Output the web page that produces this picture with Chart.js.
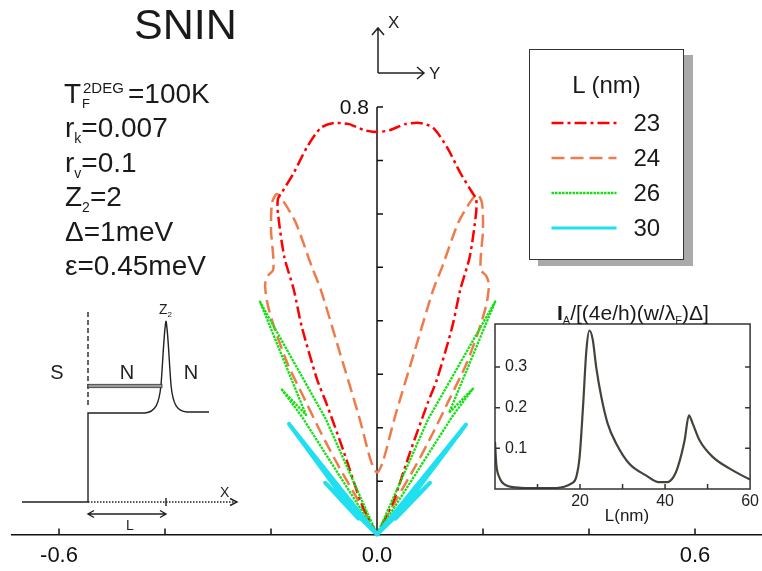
<!DOCTYPE html>
<html>
<head>
<meta charset="utf-8">
<title>SNIN</title>
<script src="https://cdn.jsdelivr.net/npm/chart.js@4.4.1/dist/chart.umd.min.js"></script>
<style>
  html, body { margin: 0; padding: 0; background: #fff; }
  #wrap { position: relative; width: 762px; height: 571px; overflow: hidden;
          font-family: "Liberation Sans", Arial, sans-serif; color: #1a1a1a; }
  canvas { position: absolute; }
  #main { left: 0; top: 0; }
  #inset { left: 470px; top: 290px; }
  .t { position: absolute; white-space: nowrap; line-height: 1; }
  .sub { position: relative; font-size: 14px; top: 6px; }
  #sketch { position: absolute; left: 0; top: 0; }
  #legend { position: absolute; left: 529px; top: 49px; width: 155px; height: 211px;
            box-sizing: border-box; border: 1.5px solid #333; background: #fff;
            box-shadow: 9px 6px 0 #a9a9a9; }
</style>
</head>
<body>
<div id="wrap">
  <canvas id="main" width="762" height="571"></canvas>
  <canvas id="inset" width="292" height="240"></canvas>

  <svg id="sketch" width="762" height="571">
    <g fill="none" stroke="#222" stroke-width="1.4">
      <!-- potential profile S | N | barrier | N -->
      <path d="M22 502 H88 V413 H145 C155 412 159 405 161 385 C163 360 164 330 166 321 C168 330 169 360 171 385 C173 405 177 411 187 412 H209"/>
      <path d="M88 312 V407" stroke-dasharray="5 3"/>
      <path d="M88 502 H236" stroke-dasharray="1.5 1.5"/>
      <path d="M230 498.5 L237 502 L230 505.5"/>
      <path d="M166 498 V506"/>
      <path d="M88 514 H166 M94 510.5 L88 514 L94 517.5 M160 510.5 L166 514 L160 517.5"/>
      <!-- orientation arrows -->
      <path d="M378 73 V28 M372 35 L378 28 L384 35 M378 73 H424 M417 67 L424 73 L417 79" stroke-width="1.5"/>
    </g>
    <rect x="88" y="384.3" width="74" height="3.4" fill="#999" stroke="#333" stroke-width="0.8"/>
    <g font-family="Liberation Sans, Arial, sans-serif" fill="#222">
      <text x="57" y="379" font-size="20" text-anchor="middle">S</text>
      <text x="127" y="379" font-size="20" text-anchor="middle">N</text>
      <text x="191" y="379" font-size="20" text-anchor="middle">N</text>
      <text x="159" y="314" font-size="14">Z<tspan font-size="8" dy="3">2</tspan></text>
      <text x="220" y="497" font-size="14">X</text>
      <text x="126" y="530" font-size="14">L</text>
      <text x="388" y="28" font-size="17">X</text>
      <text x="429" y="79" font-size="17">Y</text>
    </g>
  </svg>

  <div class="t" style="left:134px;top:2.6px;font-size:43px;">SNIN</div>

  <div class="t" style="left:64px;top:79.8px;font-size:28px;">T</div>
  <div class="t" style="left:82px;top:97px;font-size:13px;">F</div>
  <div class="t" style="left:83px;top:80px;font-size:15px;">2DEG</div>
  <div class="t" style="left:128px;top:79.8px;font-size:28px;">=100K</div>
  <div class="t" style="left:65px;top:114.3px;font-size:28px;">r<span class="sub">k</span>=0.007</div>
  <div class="t" style="left:65px;top:148.8px;font-size:28px;">r<span class="sub">v</span>=0.1</div>
  <div class="t" style="left:65px;top:183.3px;font-size:28px;">Z<span class="sub">2</span>=2</div>
  <div class="t" style="left:65px;top:217.8px;font-size:28px;">&Delta;=1meV</div>
  <div class="t" style="left:65px;top:252.3px;font-size:28px;">&epsilon;=0.45meV</div>

  <div id="legend">
    <div class="t" style="left:0;width:100%;text-align:center;top:22.8px;font-size:24px;">L (nm)</div>
  </div>

  <div class="t" style="left:557px;top:302.2px;font-size:21px;"><b>I</b><span class="sub" style="font-size:11px;top:4px;">A</span>/[(4e/h)(w/&lambda;<span class="sub" style="font-size:11px;top:4px;">F</span>)&Delta;]</div>
  <div class="t" style="left:527px;width:200px;text-align:center;top:507px;font-size:17px;">L(nm)</div>
</div>

<script>
// polar current patterns, one closed curve per barrier distance L (nm)
const seriesNames = ['23', '24', '26', '30'];

const x23 = [0, -0.030, -0.062, -0.096, -0.113, -0.142, -0.157, -0.175, -0.187, -0.187, -0.179, -0.157, -0.132, -0.106, -0.081, -0.053, -0.025,
             0, 0.025, 0.053, 0.081, 0.106, 0.132, 0.157, 0.179, 0.187, 0.187, 0.175, 0.157, 0.142, 0.113, 0.096, 0.062, 0.030, 0];
const y23 = [0, 0.060, 0.153, 0.247, 0.290, 0.389, 0.458, 0.520, 0.602, 0.628, 0.641, 0.677, 0.725, 0.761, 0.770, 0.768, 0.757,
             0.753, 0.757, 0.768, 0.770, 0.761, 0.725, 0.677, 0.641, 0.628, 0.602, 0.520, 0.458, 0.389, 0.290, 0.247, 0.153, 0.060, 0];

const x24 = [0, -0.036, -0.072, -0.106, -0.136, -0.168, -0.191, -0.204, -0.209, -0.211, -0.206, -0.196, -0.196, -0.200, -0.198,
             -0.189, -0.175, -0.153, -0.123, -0.106, -0.070, -0.034, -0.011, 0,
             0.011, 0.034, 0.070, 0.106, 0.123, 0.153, 0.175, 0.189,
             0.198, 0.200, 0.196, 0.196, 0.206, 0.211, 0.209, 0.204, 0.191, 0.168, 0.136, 0.106, 0.072, 0.036, 0];
const y24 = [0, 0.065, 0.127, 0.191, 0.252, 0.318, 0.379, 0.421, 0.445, 0.469, 0.484, 0.495, 0.523, 0.570, 0.621,
             0.637, 0.621, 0.583, 0.501, 0.458, 0.340, 0.221, 0.136, 0.116,
             0.136, 0.221, 0.340, 0.458, 0.501, 0.583, 0.621, 0.637,
             0.621, 0.570, 0.523, 0.495, 0.484, 0.469, 0.445, 0.421, 0.379, 0.318, 0.252, 0.191, 0.127, 0.065, 0];

const x26 = [0, -0.142, -0.181, -0.134, -0.221, -0.096, 0, 0.096, 0.223, 0.136, 0.181, 0.142, 0];
const y26 = [0, 0.221, 0.273, 0.224, 0.436, 0.215, 0, 0.215, 0.436, 0.228, 0.273, 0.221, 0];

const x30 = [0, -0.098, -0.035, -0.166, 0, 0.168, 0.035, 0.100, 0];
const y30 = [0, 0.097, 0.030, 0.207, 0, 0.206, 0.030, 0.097, 0];

const xTicks = [-0.6, -0.4, -0.2, 0, 0.2, 0.4, 0.6];
const xLabelled = [-0.6, 0, 0.6];
const yTicks = [0.1, 0.2, 0.3, 0.4, 0.5, 0.6, 0.7, 0.8];

// Andreev current vs. L
const insetL = [0, 0.3, 1, 2.6, 6, 12.5, 16, 17.9, 19.1, 19.9, 20.7, 21.5, 22.2, 23, 23.8, 25, 26.5, 28.5, 31.6, 35.6,
                38.5, 40.5, 42, 43, 44.6, 45.6, 46.5, 48.1, 51.2, 55.2, 60];
const insetI = [0.116, 0.062, 0.029, 0.009, 0.003, 0.002, 0.005, 0.013, 0.029, 0.079, 0.202, 0.342, 0.390, 0.367, 0.300, 0.227, 0.161, 0.112, 0.062, 0.033,
                0.017, 0.017, 0.030, 0.054, 0.120, 0.181, 0.161, 0.120, 0.079, 0.050, 0.023];
const insetXTicks = [0, 10, 20, 30, 40, 50, 60];
const insetXLabelled = [20, 40, 60];
const insetYTicks = [0.1, 0.2, 0.3];

const styles = {
  '23': { color: '#ff0000', dash: [12, 4, 3, 4], width: 2.5, tension: 0.25, order: 3 },
  '24': { color: '#ee7b4b', dash: [13, 6], width: 2.5, tension: 0.25, order: 4 },
  '26': { color: '#14e014', dash: [2.5, 1], width: 2.3, tension: 0, order: 2 },
  '30': { color: '#1fdff0', dash: [], width: 4, tension: 0, order: 1 }
};
const curves = { '23': [x23, y23], '24': [x24, y24], '26': [x26, y26], '30': [x30, y30] };

Chart.defaults.font.family = '"Liberation Sans", Arial, sans-serif';
Chart.defaults.color = '#111';

const toPoints = (xs, ys) => xs.map((v, i) => ({ x: v, y: ys[i] }));

// axis line at x = 0 with inward ticks, plus ticks on the bottom axis
const axisMarks = {
  id: 'axisMarks',
  beforeDatasetsDraw(chart) {
    const { ctx, scales: { x, y } } = chart;
    const x0 = x.getPixelForValue(0);
    const y0 = y.getPixelForValue(0);
    ctx.save();
    ctx.strokeStyle = '#111';
    ctx.lineWidth = 1.5;
    ctx.beginPath();
    ctx.moveTo(x0, y0);
    ctx.lineTo(x0, y.getPixelForValue(0.8));
    yTicks.forEach(v => {
      const py = y.getPixelForValue(v);
      ctx.moveTo(x0, py);
      ctx.lineTo(x0 + 6, py);
    });
    xTicks.forEach(v => {
      const px = x.getPixelForValue(v);
      ctx.moveTo(px, y0);
      ctx.lineTo(px, y0 - 6);
    });
    ctx.stroke();
    ctx.fillStyle = '#111';
    ctx.font = '21px "Liberation Sans", Arial, sans-serif';
    ctx.textAlign = 'right';
    ctx.textBaseline = 'middle';
    ctx.fillText('0.8', x0 - 8, y.getPixelForValue(0.8) + 1);
    ctx.restore();
  }
};

new Chart(document.getElementById('main'), {
  type: 'scatter',
  data: {
    datasets: seriesNames.map(name => ({
      label: name,
      data: toPoints(curves[name][0], curves[name][1]),
      showLine: true,
      fill: false,
      pointRadius: 0,
      borderColor: styles[name].color,
      borderWidth: styles[name].width,
      borderDash: styles[name].dash,
      tension: styles[name].tension,
      order: styles[name].order,
      borderJoinStyle: 'round',
      clip: false
    }))
  },
  options: {
    responsive: false,
    animation: false,
    devicePixelRatio: 1,
    layout: { padding: { left: 12, right: 0, top: 107, bottom: -6 } },
    plugins: { legend: { display: false }, tooltip: { enabled: false } },
    scales: {
      x: {
        type: 'linear',
        min: -0.6887,
        max: 0.7264,
        afterBuildTicks: s => { s.ticks = xTicks.map(v => ({ value: v })); },
        grid: { display: false, drawTicks: false },
        border: { display: true, color: '#111', width: 1.5 },
        ticks: {
          autoSkip: false,
          maxRotation: 0,
          padding: 8,
          font: { size: 22 },
          callback: v => xLabelled.includes(v) ? v.toFixed(1) : ''
        }
      },
      y: { type: 'linear', display: false, min: 0, max: 0.8 }
    }
  },
  plugins: [axisMarks]
});

// closed frame with inward ticks for the inset
const insetFrame = {
  id: 'insetFrame',
  afterDraw(chart) {
    const { ctx, chartArea: a, scales: { x, y } } = chart;
    ctx.save();
    ctx.strokeStyle = '#333';
    ctx.lineWidth = 1.5;
    ctx.strokeRect(a.left, a.top, a.right - a.left, a.bottom - a.top);
    ctx.beginPath();
    insetXTicks.slice(1, -1).forEach(v => {
      const px = x.getPixelForValue(v);
      ctx.moveTo(px, a.bottom);
      ctx.lineTo(px, a.bottom - 5);
    });
    insetYTicks.forEach(v => {
      const py = y.getPixelForValue(v);
      ctx.moveTo(a.left, py);
      ctx.lineTo(a.left + 5, py);
      ctx.moveTo(a.right, py);
      ctx.lineTo(a.right - 5, py);
    });
    ctx.stroke();
    ctx.restore();
  }
};

new Chart(document.getElementById('inset'), {
  type: 'scatter',
  data: {
    datasets: [{
      data: toPoints(insetL, insetI),
      showLine: true,
      pointRadius: 0,
      borderColor: '#45423c',
      borderWidth: 2.2,
      cubicInterpolationMode: 'monotone'
    }]
  },
  options: {
    responsive: false,
    animation: false,
    devicePixelRatio: 1,
    layout: { padding: { left: 5, right: 11, top: 34, bottom: 15.8 } },
    plugins: { legend: { display: false }, tooltip: { enabled: false } },
    scales: {
      x: {
        type: 'linear',
        min: 0,
        max: 60,
        afterBuildTicks: s => { s.ticks = insetXTicks.map(v => ({ value: v })); },
        grid: { display: false, drawTicks: false },
        border: { display: false },
        ticks: {
          autoSkip: false,
          maxRotation: 0,
          padding: 3,
          font: { size: 16 },
          color: '#222',
          callback: v => insetXLabelled.includes(v) ? String(v) : ''
        }
      },
      y: {
        type: 'linear',
        min: 0,
        max: 0.406,
        afterBuildTicks: s => { s.ticks = insetYTicks.map(v => ({ value: v })); },
        grid: { display: false, drawTicks: false },
        border: { display: false },
        ticks: {
          mirror: true,
          padding: 10,
          font: { size: 16 },
          color: '#222',
          callback: v => v.toFixed(1)
        }
      }
    }
  },
  plugins: [insetFrame]
});

// legend rows: line sample + L value
const legend = document.getElementById('legend');
const svgNS = 'http://www.w3.org/2000/svg';
seriesNames.forEach((name, i) => {
  const cy = 72.5 + i * 35;
  const svg = document.createElementNS(svgNS, 'svg');
  svg.setAttribute('width', '80');
  svg.setAttribute('height', '10');
  svg.style.position = 'absolute';
  svg.style.left = '16px';
  svg.style.top = (cy - 5) + 'px';
  const line = document.createElementNS(svgNS, 'line');
  line.setAttribute('x1', '5.5');
  line.setAttribute('x2', '70.5');
  line.setAttribute('y1', '5');
  line.setAttribute('y2', '5');
  line.setAttribute('stroke', styles[name].color);
  line.setAttribute('stroke-width', Math.min(styles[name].width, 3));
  if (styles[name].dash.length) line.setAttribute('stroke-dasharray', styles[name].dash.join(' '));
  svg.appendChild(line);
  legend.appendChild(svg);
  const label = document.createElement('div');
  label.className = 't';
  label.style.left = '103.5px';
  label.style.top = (cy - 11.7) + 'px';
  label.style.fontSize = '24px';
  label.textContent = name;
  legend.appendChild(label);
});
</script>
</body>
</html>
